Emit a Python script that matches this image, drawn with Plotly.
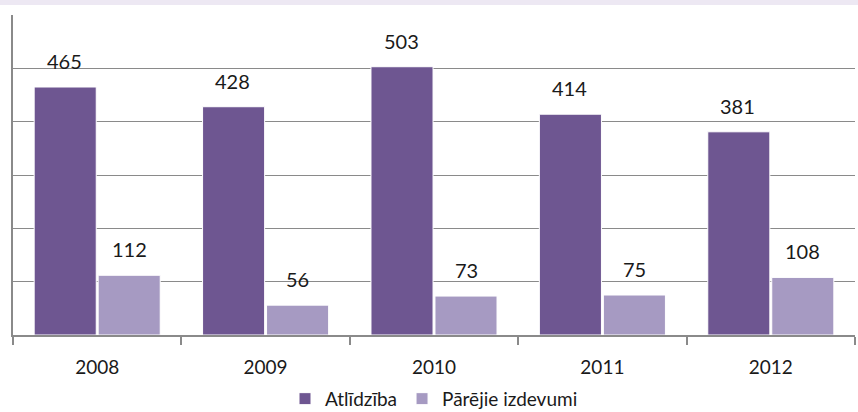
import plotly.graph_objects as go

years = ["2008", "2009", "2010", "2011", "2012"]
atlidziba = [465, 428, 503, 414, 381]
parejie = [112, 56, 73, 75, 108]
series_names = ["Atlīdzība", "Pārējie izdevumi"]
colors = ["#6E5691", "#A69AC2"]

xpos = list(range(len(years)))

fig = go.Figure()
fig.add_trace(go.Bar(x=xpos, y=atlidziba, name=series_names[0],
                     marker=dict(color=colors[0], line=dict(color="white", width=1))))
fig.add_trace(go.Bar(x=xpos, y=parejie, name=series_names[1],
                     marker=dict(color=colors[1], line=dict(color="white", width=1))))

font_family = "Lato, Open Sans, sans-serif"
annotations = []
for vals, off in ((atlidziba, -0.195), (parejie, 0.19)):
    for i, v in zip(xpos, vals):
        annotations.append(dict(x=i + off, y=v, xref="x", yref="y", text=str(v),
                                showarrow=False, yshift=26,
                                font=dict(size=20, color="#1a1a1a", family=font_family)))

fig.update_layout(
    width=858, height=412,
    margin=dict(l=13, r=3, t=15, b=77, autoexpand=False),
    paper_bgcolor="white", plot_bgcolor="white",
    barmode="group", bargap=0.24, bargroupgap=0.03,
    font=dict(family=font_family, size=18, color="#1a1a1a"),
    showlegend=True,
    legend=dict(orientation="h", x=0.5, xanchor="center", y=-0.14, yanchor="top",
                font=dict(size=19), traceorder="normal"),
    annotations=annotations,
    shapes=[dict(type="rect", xref="paper", yref="paper", x0=-0.02, x1=1.01,
                 y0=1.0 + 10 / 320, y1=1.0 + 15 / 320, fillcolor="#EDE8F3",
                 line=dict(width=0), layer="below")],
)
fig.update_xaxes(range=[-0.5, len(years) - 0.5], tickvals=xpos, ticktext=years,
                 ticks="", showline=True, linecolor="#8a8a8a", linewidth=1.5,
                 tickfont=dict(size=19), ticklabelstandoff=14,
                 showgrid=False, zeroline=False,
                 minor=dict(ticks="outside", ticklen=8, tickcolor="#8a8a8a",
                            tickwidth=1.5, tick0=-0.5, dtick=1, showgrid=False))
fig.update_yaxes(range=[0, 600], dtick=100, showticklabels=False,
                 showline=True, linecolor="#8a8a8a", linewidth=1.5,
                 showgrid=True, gridcolor="#8a8a8a", gridwidth=1.2, zeroline=False)

fig.write_html("out.html", config={"displayModeBar": False},
               post_script="document.body.style.margin='0';document.body.style.overflow='hidden';")
